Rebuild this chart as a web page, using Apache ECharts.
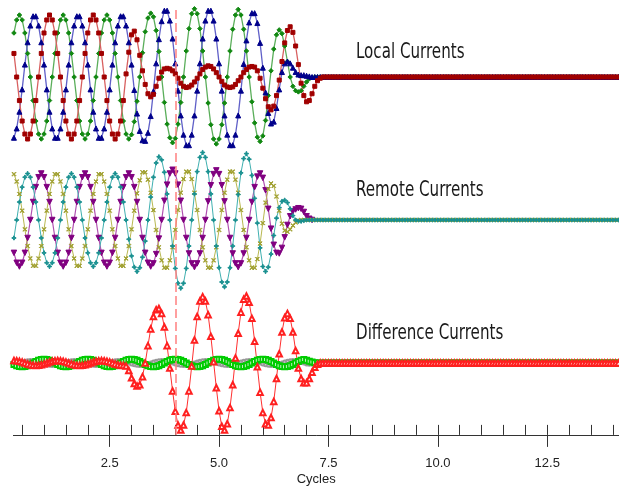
<!DOCTYPE html>
<html><head><meta charset="utf-8">
<script src="https://cdn.jsdelivr.net/npm/echarts@6/dist/echarts.min.js"></script>
<style>html,body{margin:0;padding:0;background:#fff}#c{width:619px;height:487px}</style>
</head><body><div id="c"></div>
<script>
// sampling: 16 samples per cycle, first sample index 5 (t = 5/16 cycles)
const samplesPerCycle = 16;
const firstSample = 5;
const cursorCycle = 4.0;
const xMin = 0.3, xMax = 14.14;
const majorTicks = [2.5, 5.0, 7.5, 10.0, 12.5];
const minorTicks = [0.5,1,1.5,2,2.5,3,3.5,4,4.5,5,5.5,6,6.5,7,7.5,8,8.5,9,9.5,10,10.5,11,11.5,12,12.5,13,13.5,14];
const panelTitles = ['Local Currents', 'Remote Currents', 'Difference Currents'];
const axisName = 'Cycles';

// settled (post-clearing) samples, k = 119..226
const settled = [
 0,0,0,0,0,0,0,0,0,
 0,0,0,0,0,0,0,0,0,0,0,0,0,0,0,0,
 0,0,0,0,0,0,0,0,0,0,0,0,0,0,0,0,
 0,0,0,0,0,0,0,0,0,0,0,0,0,0,0,0,
 0,0,0,0,0,0,0,0,0,0,0,0,0,0,0,0,
 0,0,0,0,0,0,0,0,0,0,0,0,0,0,0,0,
 0,0,0,0,0,0,0,0,0,0,0,0,0,0,0,0,
 0,0,0
];

// Local currents, k = 5..118
const localRed = [
 .38,0,-.38,-.71,-.92,-1,-.92,-.71,-.38,0,.38,
 .71,.92,1,.92,.71,.38,0,-.38,-.71,-.92,-1,-.92,-.71,-.38,0,.38,
 .71,.92,1,.92,.71,.38,0,-.38,-.71,-.92,-1,-.92,-.71,-.38,.05,.4,
 .68,.74,.6,.35,.1,-.12,-.27,-.32,-.28,-.15,-.02,.08,.13,.14,.13,.1,
 .05,-.02,-.1,-.15,-.17,-.16,-.13,-.08,-.02,.05,.12,.16,.18,.17,.13,.07,
 0,-.07,-.13,-.16,-.17,-.16,-.12,-.06,0,.07,.12,.16,.17,.16,.1,-.02,
 -.18,-.35,-.48,-.53,-.47,-.3,-.05,.25,.55,.75,.81,.72,.5,.2,-.1,-.3,
 -.4,-.38,-.27,-.15,-.06,-.02,0
];
const localGreen = [
 .71,.92,1,.92,.71,.38,0,-.38,-.71,-.92,-1,
 -.92,-.71,-.38,0,.38,.71,.92,1,.92,.71,.38,0,-.38,-.71,-.92,-1,
 -.92,-.71,-.38,0,.38,.71,.92,1,.92,.71,.38,0,-.38,-.71,-.92,-1,
 -.93,-.72,-.39,0,.39,.73,.95,1.03,.97,.75,.41,0,-.41,-.76,-.98,-1.06,
 -.99,-.76,-.41,0,.42,.78,1.02,1.1,1.02,.78,.42,0,-.42,-.77,-1.0,-1.08,
 -1.0,-.77,-.42,0,.42,.77,1.0,1.09,1.0,.77,.42,0,-.4,-.74,-.97,-1.04,
 -.95,-.7,-.3,.1,.45,.68,.76,.7,.5,.25,0,-.15,-.22,-.24,-.22,-.15,
 -.08,-.03,-.01,0,0,0,0
];
const localBlue = [
 -.98,-.83,-.56,-.2,.2,.56,.83,.98,.98,.83,.56,
 .2,-.2,-.56,-.83,-.98,-.98,-.83,-.56,-.2,.2,.56,.83,.98,.98,.83,.56,
 .2,-.2,-.56,-.83,-.98,-.98,-.83,-.56,-.2,.2,.56,.83,.98,.98,.83,.56,
 .2,-.21,-.59,-.87,-1.02,-1.03,-.9,-.63,-.23,.22,.61,.9,1.07,1.07,.91,.62,
 .22,-.22,-.62,-.93,-1.1,-1.1,-.93,-.62,-.22,.22,.62,.91,1.07,1.07,.91,.62,
 .22,-.22,-.62,-.93,-1.1,-1.1,-.93,-.62,-.22,.21,.59,.88,1.03,1.03,.87,.55,
 .15,-.25,-.58,-.75,-.72,-.5,-.2,.08,.22,.25,.22,.15,.08,.04,.03,.03,
 .02,.01,0,0,0,0,0
];

// Remote currents, k = 5..118 (purple ends at k = 114)
const remoteTeal = [
 -.29,0,.29,.53,.69,.75,.69,.53,.29,0,-.29,
 -.53,-.69,-.75,-.69,-.53,-.29,0,.29,.53,.69,.75,.69,.53,.29,0,-.29,
 -.53,-.69,-.75,-.69,-.53,-.29,0,.29,.53,.69,.75,.69,.53,.29,0,-.31,
 -.58,-.76,-.83,-.77,-.6,-.34,0,.37,.69,.92,1.02,.97,.77,.42,0,-.42,
 -.78,-1.02,-1.1,-1.02,-.78,-.42,0,.42,.78,1.01,1.09,1.01,.78,.42,0,-.42,
 -.77,-1.0,-1.08,-1.0,-.77,-.42,0,.41,.76,.99,1.07,.98,.72,.35,-.05,-.45,
 -.75,-.83,-.76,-.55,-.25,.03,.2,.3,.32,.28,.18,.07,0,-.02,-.02,-.01,
 0,0,0,0,0,0,0
];
const remotePurple = [
 -.53,-.69,-.75,-.69,-.53,-.29,0,.29,.53,.69,.75,
 .69,.53,.29,0,-.29,-.53,-.69,-.75,-.69,-.53,-.29,0,.29,.53,.69,.75,
 .69,.53,.29,0,-.29,-.53,-.69,-.75,-.69,-.53,-.29,0,.29,.53,.69,.75,
 .69,.53,.29,0,-.29,-.53,-.69,-.75,-.7,-.55,-.3,0,.31,.57,.75,.81,
 .75,.57,.31,0,-.29,-.54,-.7,-.76,-.7,-.54,-.29,0,.3,.56,.74,.8,
 .74,.56,.3,0,-.29,-.54,-.7,-.76,-.7,-.54,-.29,0,.29,.53,.7,.75,
 .68,.48,.18,-.14,-.4,-.53,-.54,-.45,-.28,-.08,.06,.14,.17,.19,.18,.13,
 .06,.02,0
];
const remoteOlive = [
 .74,.62,.42,.15,-.15,-.42,-.62,-.74,-.74,-.62,-.42,
 -.15,.15,.42,.62,.74,.74,.62,.42,.15,-.15,-.42,-.62,-.74,-.74,-.62,-.42,
 -.15,.15,.42,.62,.74,.74,.62,.42,.15,-.15,-.42,-.62,-.74,-.74,-.62,-.42,
 -.15,.15,.43,.64,.77,.77,.65,.44,.16,-.16,-.44,-.65,-.77,-.77,-.65,-.44,
 -.16,.16,.44,.66,.78,.78,.66,.44,.16,-.16,-.44,-.65,-.77,-.77,-.65,-.44,
 -.16,.16,.44,.65,.78,.78,.65,.44,.16,-.16,-.44,-.65,-.77,-.77,-.63,-.38,
 -.05,.28,.5,.59,.55,.38,.15,-.06,-.17,-.19,-.15,-.09,-.04,-.01,0,0,
 0,0,0,0,0,0,0
];

// Difference currents, k = 5..118
const diffRed = [
 .04,.037,.028,.015,0,-.015,-.028,-.037,-.04,-.037,-.028,
 -.015,0,.015,.028,.037,.04,.037,.028,.015,0,-.015,-.028,-.037,-.04,-.037,-.028,
 -.015,0,.015,.028,.037,.04,.037,.028,.015,0,-.015,-.028,-.037,-.04,-.05,-.12,
 -.24,-.33,-.37,-.35,-.22,0,.28,.55,.75,.86,.88,.8,.58,.28,-.08,-.45,
 -.78,-1.0,-1.08,-1.0,-.8,-.45,-.05,.37,.75,1.0,1.07,1.0,.78,.43,.02,-.4,
 -.77,-1.02,-1.08,-.98,-.72,-.35,.08,.48,.82,1.03,1.08,.98,.72,.35,-.06,-.47,
 -.8,-.98,-1.0,-.88,-.62,-.25,.15,.5,.73,.8,.72,.5,.2,-.08,-.25,-.32,
 -.32,-.25,-.15,-.07,-.02,0,0
];
const diffGreen = [
 -.023,-.043,-.055,-.06,-.055,-.043,-.023,0,.023,.043,.055,
 .06,.055,.043,.023,0,-.023,-.043,-.055,-.06,-.055,-.043,-.023,0,.023,.043,.055,
 .06,.055,.043,.023,0,-.023,-.043,-.055,-.06,-.055,-.043,-.023,0,.023,.043,.055,
 .06,.055,.043,.023,0,-.023,-.043,-.055,-.06,-.055,-.043,-.023,0,.023,.043,.055,
 .06,.055,.043,.023,0,-.023,-.043,-.055,-.06,-.055,-.043,-.023,0,.023,.043,.055,
 .06,.055,.043,.023,0,-.023,-.043,-.055,-.06,-.055,-.043,-.023,0,.023,.043,.055,
 .06,.055,.043,.023,0,-.023,-.043,-.055,-.06,-.055,-.043,-.023,0,.023,.043,.055,
 .045,.03,.015,.005,0,0,0
];
const diffGray = [
 -.028,-.015,0,.015,.028,.037,.04,.037,.028,.015,0,
 -.015,-.028,-.037,-.04,-.037,-.028,-.015,0,.015,.028,.037,.04,.037,.028,.015,0,
 -.015,-.028,-.037,-.04,-.037,-.028,-.015,0,.015,.028,.037,.04,.037,.028,.015,0,
 -.015,-.028,-.037,-.04,-.037,-.028,-.015,0,.015,.028,.037,.04,.037,.028,.015,0,
 -.015,-.028,-.037,-.04,-.037,-.028,-.015,0,.015,.028,.037,.04,.037,.028,.015,0,
 -.015,-.028,-.037,-.04,-.037,-.028,-.015,0,.015,.028,.037,.04,.037,.028,.015,0,
 -.015,-.028,-.037,-.04,-.037,-.028,-.015,0,.015,.028,.037,.04,.037,.028,.015,0,
 -.015,-.02,-.015,-.01,0,0,0
];

function pts(values) {
  return values.map((v, i) => [(firstSample + i) / samplesPerCycle, v]);
}

const xSym = 'path://M0,1L1,0L5,4L9,0L10,1L6,5L10,9L9,10L5,6L1,10L0,9L4,5Z';
const plusSym = 'path://M4,0L6,0L6,4L10,4L10,6L6,6L6,10L4,10L4,6L0,6L0,4L4,4Z';

function wave(name, values, grid, lineColor, markColor, symbol, size, lw, extra) {
  return Object.assign({
    name, type: 'line', xAxisIndex: grid, yAxisIndex: grid,
    data: pts(values), clip: false, animation: false, silent: true,
    symbol, symbolSize: size, showSymbol: true,
    lineStyle: { color: lineColor, width: lw },
    itemStyle: { color: markColor, borderColor: markColor }
  }, extra || {});
}

const L = 13.4;
const grids = [
  { left: L, right: 0, top: 2.6, height: 148.8 },
  { left: L, right: 0, top: 145.6, height: 148.8 },
  { left: L, right: 0, top: 288.6, height: 146.3 },
  { left: L, right: 0, top: 8, height: 427 }
];
const hiddenX = (g) => ({ type: 'value', gridIndex: g, min: xMin, max: xMax, show: false, axisLine: { onZero: false } });
const hiddenY = (g, lo, hi) => ({ type: 'value', gridIndex: g, min: lo, max: hi, show: false, axisLine: { onZero: false } });
const titleY = [53, 191, 334];

const chart = echarts.init(document.getElementById('c'), null, { renderer: 'canvas' });
chart.setOption({
  animation: false,
  backgroundColor: '#fff',
  graphic: panelTitles.map((t, i) => ({
    type: 'text', x: 356, y: titleY[i], scaleX: 0.8, silent: true,
    style: {
      text: t, fill: '#1a1a1a', textVerticalAlign: 'middle', verticalAlign: 'middle',
      font: '21px "DejaVu Sans Condensed", "DejaVu Sans", sans-serif'
    }
  })),
  grid: grids,
  xAxis: [
    hiddenX(0), hiddenX(1),
    {
      type: 'value', gridIndex: 2, min: xMin, max: xMax, position: 'bottom',
      axisLine: { show: true, onZero: false, lineStyle: { color: '#333', width: 1 } },
      axisTick: { show: true, inside: true, length: 10, customValues: minorTicks, lineStyle: { color: '#333', width: 1 } },
      axisLabel: { show: true, customValues: majorTicks, margin: 22, fontSize: 13, color: '#222', fontFamily: '"Liberation Sans", Arial, sans-serif', formatter: v => v.toFixed(1) },
      splitLine: { show: false },
      name: axisName, nameLocation: 'middle', nameGap: 38,
      nameTextStyle: { fontSize: 13, color: '#222', fontFamily: '"Liberation Sans", Arial, sans-serif' }
    },
    {
      type: 'value', gridIndex: 2, min: xMin, max: xMax, position: 'bottom',
      axisLine: { show: false, onZero: false },
      axisTick: { show: true, inside: false, length: 12, customValues: majorTicks, lineStyle: { color: '#333', width: 1 } },
      axisLabel: { show: false }, splitLine: { show: false }
    },
    hiddenX(3)
  ],
  yAxis: [hiddenY(0, -1.2, 1.2), hiddenY(1, -1.2, 1.2), hiddenY(2, -1.16, 1.2), hiddenY(3, 0, 1)],
  series: [
    wave('Local B', localGreen.concat(settled), 0, '#5aae5a', '#118811', 'diamond', 4.5, 1.3),
    wave('Local C', localBlue.concat(settled), 0, '#6060c8', '#00008b', 'triangle', 5, 1.3),
    wave('Local A', localRed.concat(settled), 0, '#d86060', '#a00000', 'rect', 4, 1.3),
    wave('Remote B', remotePurple, 1, '#b050b0', '#800080', 'triangle', 5.5, 1.2, { symbolRotate: 180 }),
    wave('Remote C', remoteOlive.concat(settled), 1, '#b8b850', '#a0a030', xSym, 4, 1),
    wave('Remote A', remoteTeal.concat(settled), 1, '#40b0b0', '#1a9090', plusSym, 4, 1),
    wave('Diff C', diffGray.concat(settled), 2, '#b0b0b0', '#999999', 'emptyCircle', 3, 1),
    wave('Diff B', diffGreen.concat(settled), 2, '#20cc20', '#00cc00', 'emptyRect', 5, 1),
    wave('Diff A', diffRed.concat(settled), 2, '#ff3030', '#ff2020', 'emptyTriangle', 5.5, 1),
    {
      type: 'line', xAxisIndex: 4, yAxisIndex: 3, data: [], silent: true, animation: false,
      markLine: {
        silent: true, symbol: ['none', 'none'], animation: false,
        label: { show: false },
        lineStyle: { color: '#ff8080', type: [9, 4], width: 1.5 },
        data: [{ xAxis: cursorCycle }]
      }
    }
  ]
});
</script>
</body></html>
